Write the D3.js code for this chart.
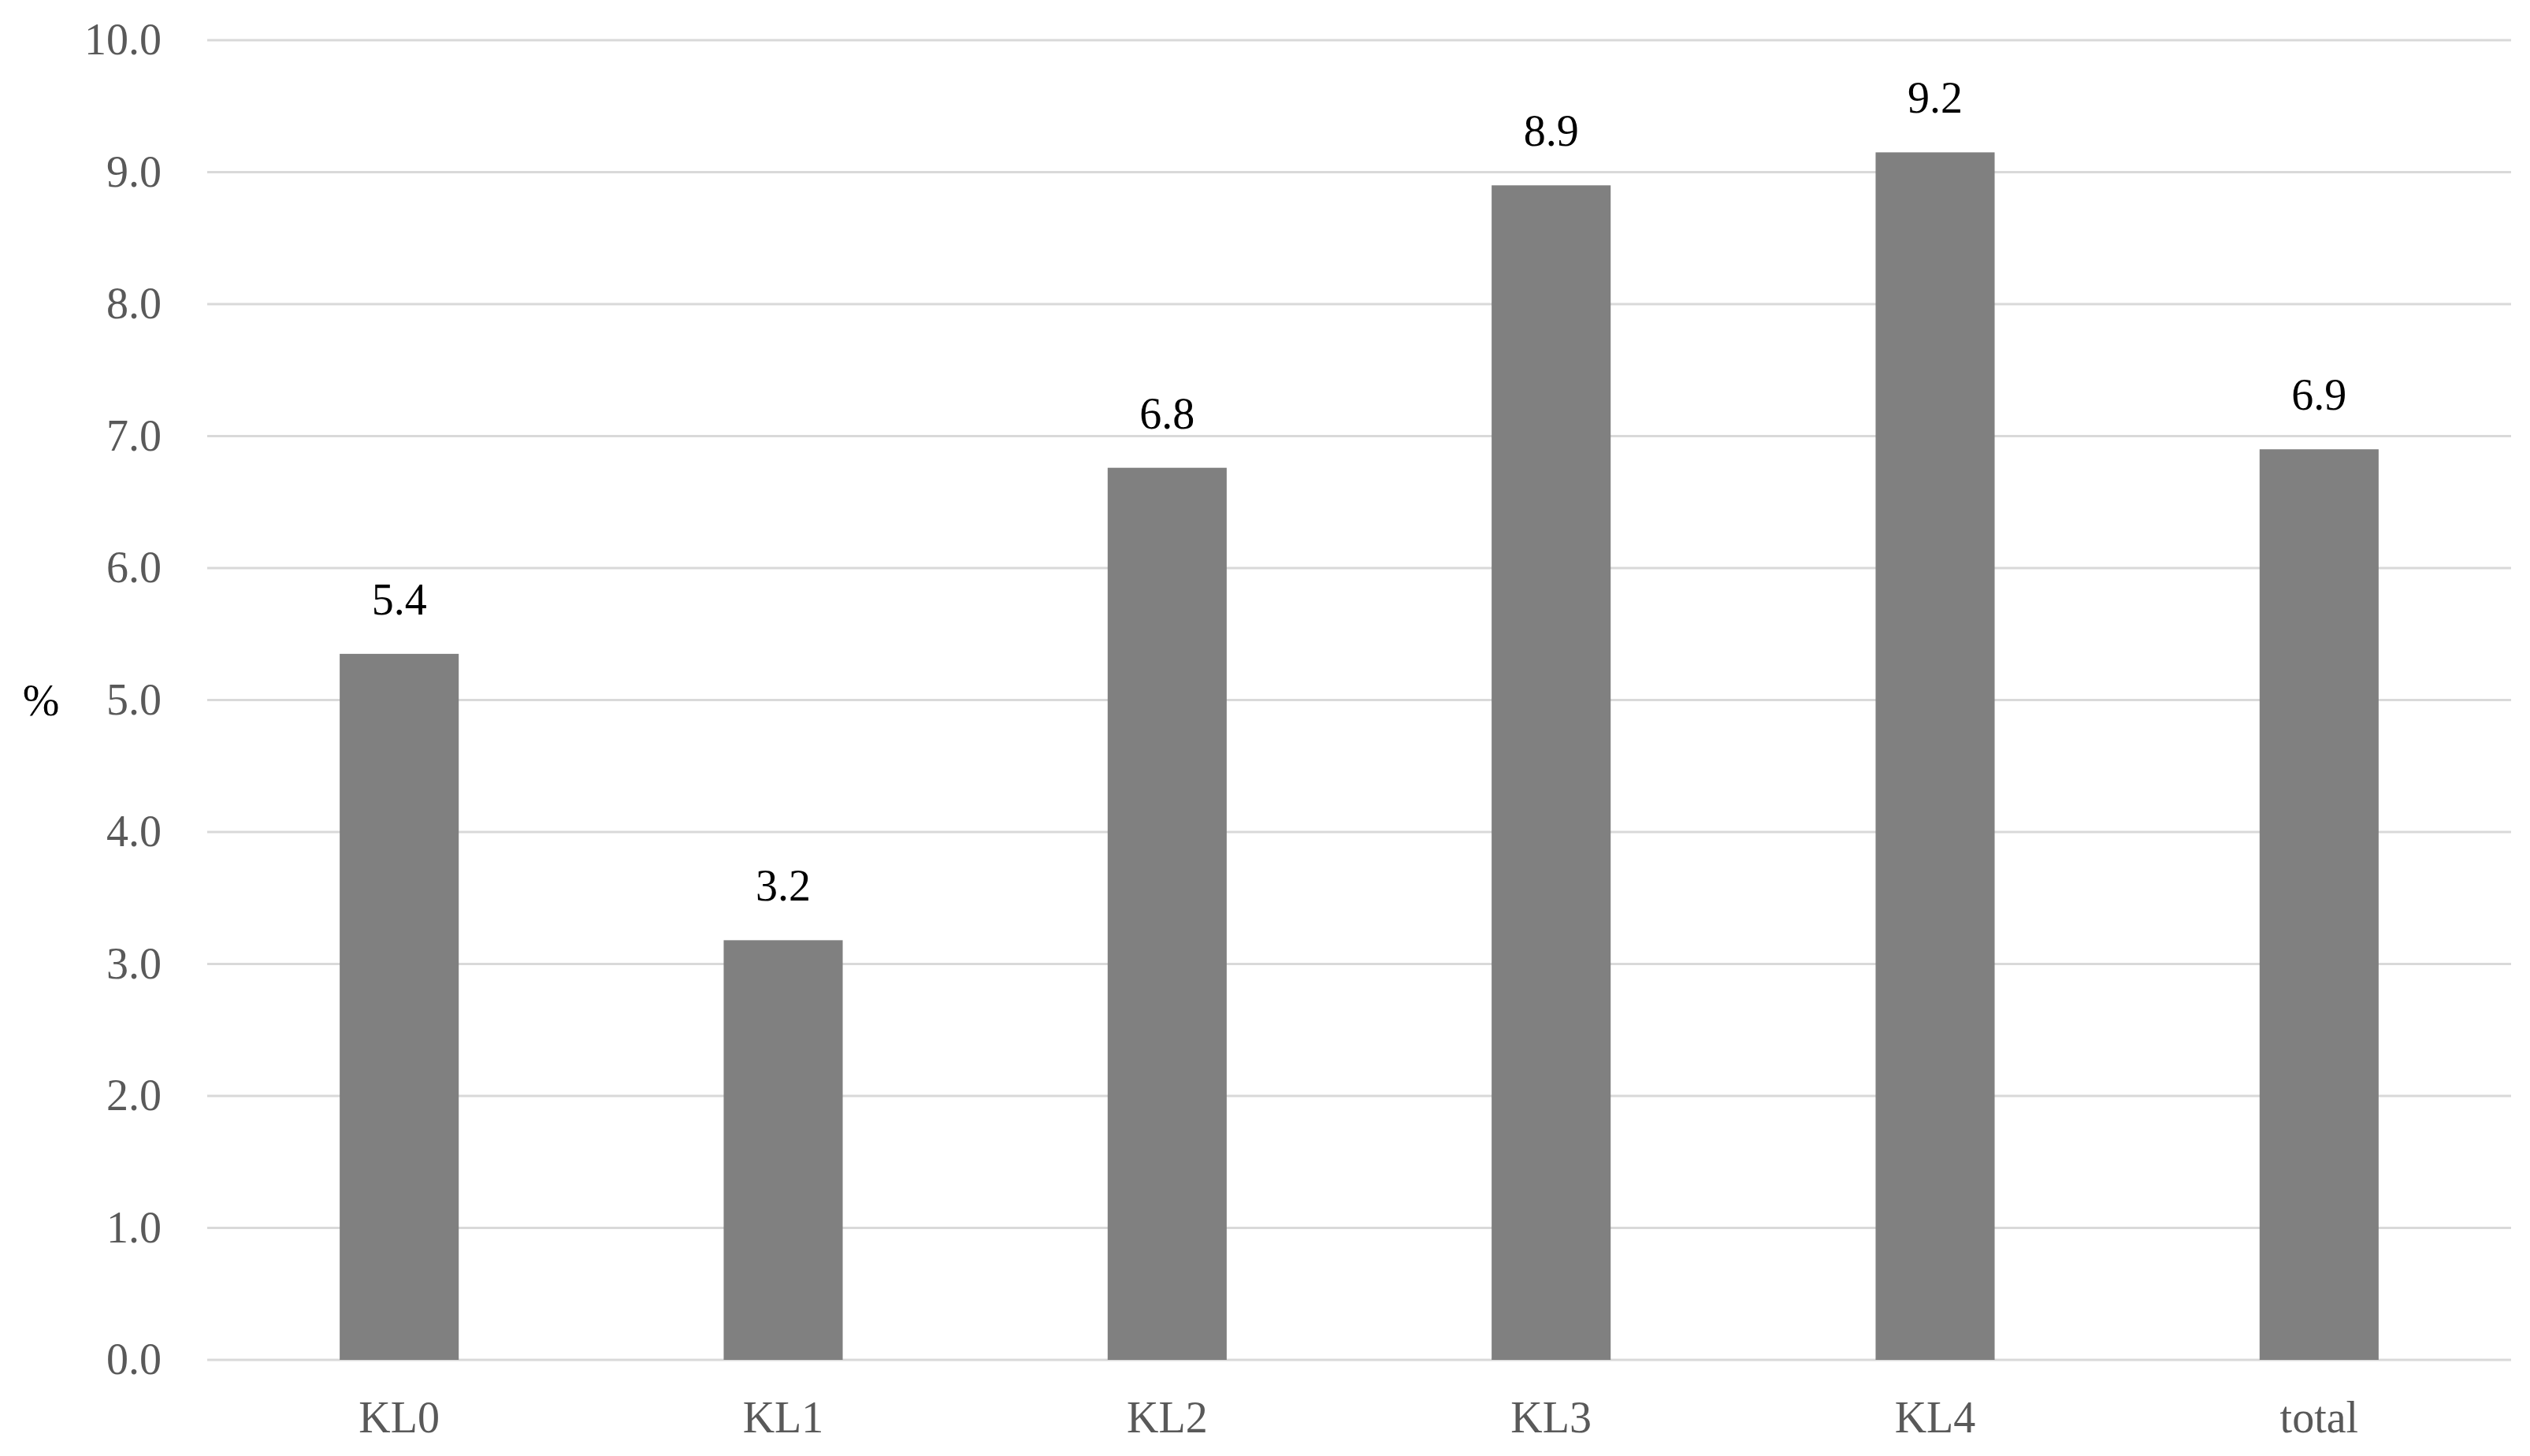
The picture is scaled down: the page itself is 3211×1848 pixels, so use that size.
<!DOCTYPE html>
<html><head><meta charset="utf-8">
<script src="https://cdn.jsdelivr.net/npm/d3@7"></script>
<style>body{margin:0;background:#fff}</style></head>
<body><svg id="c" width="3211" height="1848"></svg>
<script>
const categories = ["KL0","KL1","KL2","KL3","KL4","total"];
const values = [5.35, 3.18, 6.76, 8.9, 9.15, 6.9];
const valueLabels = ["5.4","3.2","6.8","8.9","9.2","6.9"];
const yTicks = [0,1,2,3,4,5,6,7,8,9,10];

const svg = d3.select("#c");
const m = {l:263, r:3187, t:51, b:1726};
const font = "'Liberation Serif','Times New Roman',serif";
const x = d3.scaleBand().domain(categories).range([m.l, m.r]).paddingInner(0.69).paddingOuter(0.345);
const y = d3.scaleLinear().domain([0,10]).range([m.b, m.t]);

svg.append("g").selectAll("line").data(yTicks).join("line")
  .attr("x1", m.l).attr("x2", m.r).attr("y1", d=>y(d)).attr("y2", d=>y(d))
  .attr("stroke", "#d9d9d9").attr("stroke-width", 3);

const ya = svg.append("g").attr("transform", `translate(${m.l},0)`)
  .call(d3.axisLeft(y).tickValues(yTicks).tickFormat(d3.format(".1f")).tickSize(0).tickPadding(58));
ya.select(".domain").remove();
ya.selectAll("text").attr("font-family", font).attr("font-size", 56).attr("fill", "#595959");

svg.append("g").selectAll("rect").data(values).join("rect")
  .attr("x", (d,i)=>x(categories[i])).attr("width", x.bandwidth())
  .attr("y", d=>y(d)).attr("height", d=>y(0)-y(d)).attr("fill", "#808080");

svg.append("g").selectAll("text").data(values).join("text")
  .attr("x", (d,i)=>x(categories[i])+x.bandwidth()/2).attr("y", d=>y(d)-50)
  .attr("text-anchor","middle").attr("font-family", font).attr("font-size", 56).attr("fill","#000")
  .text((d,i)=>valueLabels[i]);

const xa = svg.append("g").attr("transform", `translate(0,${m.b})`)
  .call(d3.axisBottom(x).tickSize(0).tickPadding(52));
xa.select(".domain").remove();
xa.selectAll("text").attr("font-family", font).attr("font-size", 56).attr("fill", "#595959");

svg.append("text").attr("x", 52).attr("y", 908).attr("text-anchor","middle")
  .attr("font-family", font).attr("font-size", 56).attr("fill","#000").text("%");
</script></body></html>
